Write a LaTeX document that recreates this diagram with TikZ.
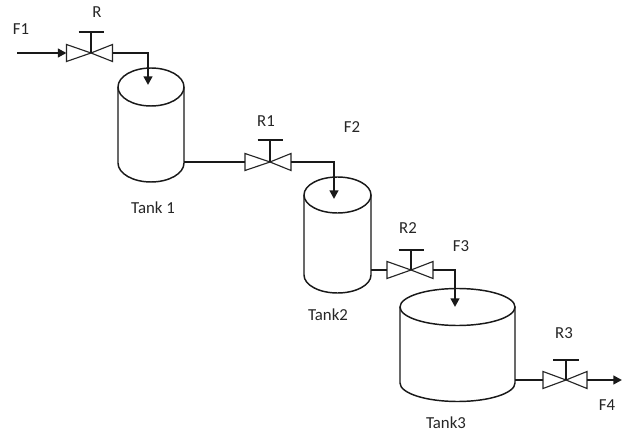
\documentclass[tikz,border=0pt]{standalone}
\usepackage{fontspec}
\setmainfont{Carlito}
\usetikzlibrary{arrows.meta}
\tikzset{
  x=0.75pt,y=-0.75pt,
  pipe/.style={line width=1.65pt,black!90},
  flow/.style={pipe,-{Triangle[length=6.5pt,width=6.5pt]}},
  tankline/.style={line width=1.1pt,black!90},
  valveline/.style={line width=0.85pt,black!85},
  stem/.style={line width=1.6pt,black!90},
  lbl/.style={inner sep=0pt,font=\fontsize{12.6pt}{14pt}\selectfont,text=black!85},
  hit/.style={inner sep=0pt,outer sep=0pt,minimum width=#1*0.75pt,minimum height=18*0.75pt}
}
% name, cx, top-ellipse cy, rx, ry, bottom-ellipse cy
\newcommand{\tankshape}[6]{
  \draw[tankline] (#2-#4,#3) arc[start angle=180,end angle=540,x radius=#4*0.75pt,y radius=#5*0.75pt];
  \draw[tankline] (#2-#4,#3) -- (#2-#4,#6) arc[start angle=180,end angle=360,x radius=#4*0.75pt,y radius=#5*0.75pt] -- (#2+#4,#3);
  \coordinate (#1) at (#2,#3);
  \coordinate (#1e) at (#2+#4,#3);
}
% name, extents centre x, cy, half width, stem top y, bar half width, stem x
\newcommand{\valveshape}[7]{
  \node[hit=2*#4] (#1) at (#2,#3) {};
  \draw[valveline] (#1.west) ++(0,-8.5) -- ++(0,17) -- (#7,#3) -- cycle;
  \draw[valveline] (#1.east) ++(0,-8.5) -- ++(0,17) -- (#7,#3) -- cycle;
  \coordinate (#1s) at (#7,#5);
  \draw[stem] (#7,#3) -- (#1s);
  \draw[stem] (#7-#6,#5) -- (#7+#6,#5);
}
\begin{document}
\begin{tikzpicture}
\useasboundingbox (0,0) rectangle (624,434);
\fill[white] (0,0) rectangle (624,434);
\tankshape{tankA}{151}{87}{33}{19}{163}
\tankshape{tankB}{337.5}{195}{33.5}{18}{275}
\tankshape{tankC}{457.5}{307}{57.5}{18.5}{383}
\valveshape{valveR}{89.5}{53}{23}{32}{12.5}{91}
\valveshape{valveA}{268}{162}{23}{140}{12.5}{270}
\valveshape{valveB}{410}{270}{23}{250}{12.5}{411}
\valveshape{valveC}{565}{380}{22}{360}{13}{566}
\coordinate (start) at (17,53);
\coordinate (inA) at (148,85);
\coordinate (inB) at (334,199);
\coordinate (inC) at (455,307);
\coordinate (end) at (622,380);
\draw[flow] (start) -- (valveR.west);
\draw[flow] (valveR.east) -| (inA);
\draw[pipe] (tankAe |- valveA.west) -- (valveA.west);
\draw[flow] (valveA.east) -| (inB);
\draw[pipe] (tankBe |- valveB.west) -- (valveB.west);
\draw[flow] (valveB.east) -| (inC);
\draw[pipe] (tankCe |- valveC.west) -- (valveC.west);
\draw[flow] (valveC.east) -- (end);
\node[lbl] (lF1) at (21,29) {F1};
\node[lbl] (lR) at (97,12) {R};
\node[lbl] (lR1) at (266,121) {R1};
\node[lbl] (lF2) at (352,127) {F2};
\node[lbl] (lT1) at (153,208) {Tank 1};
\node[lbl] (lR2) at (408,228) {R2};
\node[lbl] (lF3) at (461,246) {F3};
\node[lbl] (lT2) at (328,315) {Tank2};
\node[lbl] (lT3) at (446,423) {Tank3};
\node[lbl] (lR3) at (564,333) {R3};
\node[lbl] (lF4) at (607,405) {F4};
\end{tikzpicture}
\end{document}
